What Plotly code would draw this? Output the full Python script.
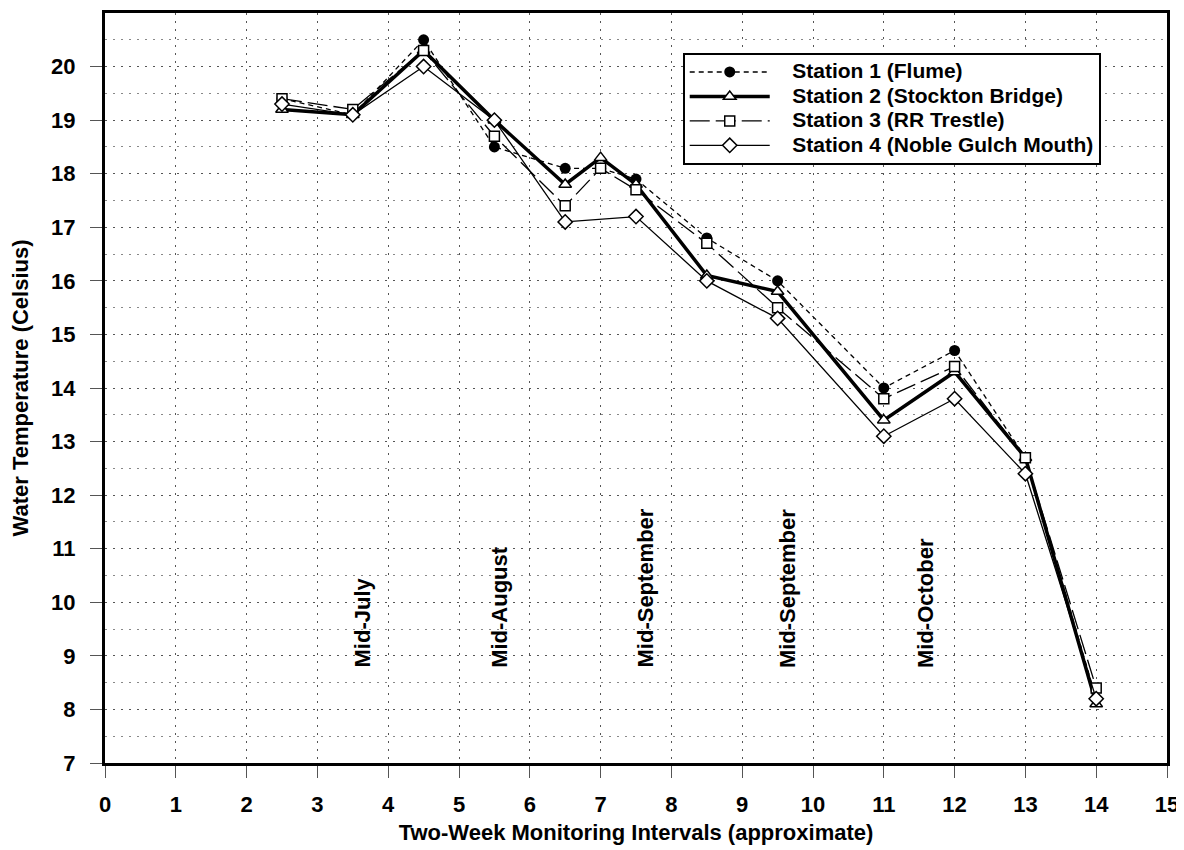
import plotly.graph_objects as go

x_all = [2.5, 3.5, 4.5, 5.5, 6.5, 7, 7.5, 8.5, 9.5, 11, 12, 13, 14]
station1 = [19.4, 19.1, 20.5, 18.5, 18.1, 18.1, 17.9, 16.8, 16.0, 14.0, 14.7, 12.7, 8.2]
station2 = [19.2, 19.1, 20.3, 19.0, 17.8, 18.3, 17.8, 16.1, 15.8, 13.4, 14.3, 12.7, 8.1]
station3 = [19.4, 19.2, 20.3, 18.7, 17.4, 18.1, 17.7, 16.7, 15.5, 13.8, 14.4, 12.7, 8.4]
x_st4 = [2.5, 3.5, 4.5, 5.5, 6.5, 7.5, 8.5, 9.5, 11, 12, 13, 14]
station4 = [19.3, 19.1, 20.0, 19.0, 17.1, 17.2, 16.0, 15.3, 13.1, 13.8, 12.4, 8.2]

names = ["Station 1 (Flume)", "Station 2 (Stockton Bridge)",
         "Station 3 (RR Trestle)", "Station 4 (Noble Gulch Mouth)"]

period_labels = ["Mid-July", "Mid-August", "Mid-September", "Mid-September", "Mid-October"]
period_x = [3.64, 5.58, 7.63, 9.63, 11.6]

FONT = "Liberation Sans, Arial, sans-serif"


def legend_name(n):
    return '<span style="font-size:21px">\u00a0\u00a0\u00a0' + n + '</span>'


fig = go.Figure()
fig.add_trace(go.Scatter(x=x_all, y=station1, name=legend_name(names[0]), mode="lines+markers",
                         line=dict(color="black", width=1.3, dash="5px,4px"),
                         marker=dict(symbol="circle", size=11, color="black")))
fig.add_trace(go.Scatter(x=x_all, y=station2, name=legend_name(names[1]), mode="lines+markers",
                         line=dict(color="black", width=3.5),
                         marker=dict(symbol="triangle-up", size=11, color="white",
                                     line=dict(color="black", width=1.5))))
fig.add_trace(go.Scatter(x=x_all, y=station3, name=legend_name(names[2]), mode="lines+markers",
                         line=dict(color="black", width=1.3, dash="20px,6px"),
                         marker=dict(symbol="square", size=10, color="white",
                                     line=dict(color="black", width=1.5))))
fig.add_trace(go.Scatter(x=x_st4, y=station4, name=legend_name(names[3]), mode="lines+markers",
                         line=dict(color="black", width=1.3),
                         marker=dict(symbol="diamond", size=11, color="white",
                                     line=dict(color="black", width=1.5))))

for lbl, px in zip(period_labels, period_x):
    fig.add_annotation(x=px, y=8.74, text=lbl, textangle=-90, showarrow=False,
                       xanchor="center", yanchor="bottom",
                       font=dict(family=FONT, size=22, color="black", weight="bold"))

axis_common = dict(
    showline=True, linecolor="black", linewidth=3, mirror=True,
    ticks="outside", ticklen=12, tickwidth=1, tickcolor="#555",
    showgrid=True, gridcolor="#555", gridwidth=1, griddash="2px,6px",
    zeroline=False, automargin=False,
    tickfont=dict(family=FONT, size=22, color="black", weight="bold"),
)

fig.update_xaxes(range=[0, 15], dtick=1, tick0=0, ticklabelstandoff=8, **axis_common,
                 title=dict(text="Two-Week Monitoring Intervals (approximate)",
                            font=dict(family=FONT, size=22, color="black", weight="bold"),
                            standoff=9))
fig.update_yaxes(range=[7, 21], dtick=1, tick0=7, tickvals=list(range(7, 21)),
                 ticklabelstandoff=10, **axis_common,
                 minor=dict(dtick=0.5, tick0=7, showgrid=True, gridcolor="#888",
                            griddash="2px,6px", gridwidth=1, ticks=""),
                 title=dict(text="Water Temperature (Celsius)",
                            font=dict(family=FONT, size=22, color="black", weight="bold"),
                            standoff=22))

fig.update_layout(
    width=1184, height=850,
    margin=dict(l=97, r=25, t=5, b=95),
    plot_bgcolor="white", paper_bgcolor="white",
    font=dict(family=FONT, color="black"),
    legend=dict(x=0.544, y=0.947, xanchor="left", yanchor="top",
                bgcolor="white", bordercolor="black", borderwidth=2,
                font=dict(family=FONT, size=16.5, color="black", weight="bold"),
                tracegroupgap=0, itemwidth=80),
)

fig.write_html("out.html")
